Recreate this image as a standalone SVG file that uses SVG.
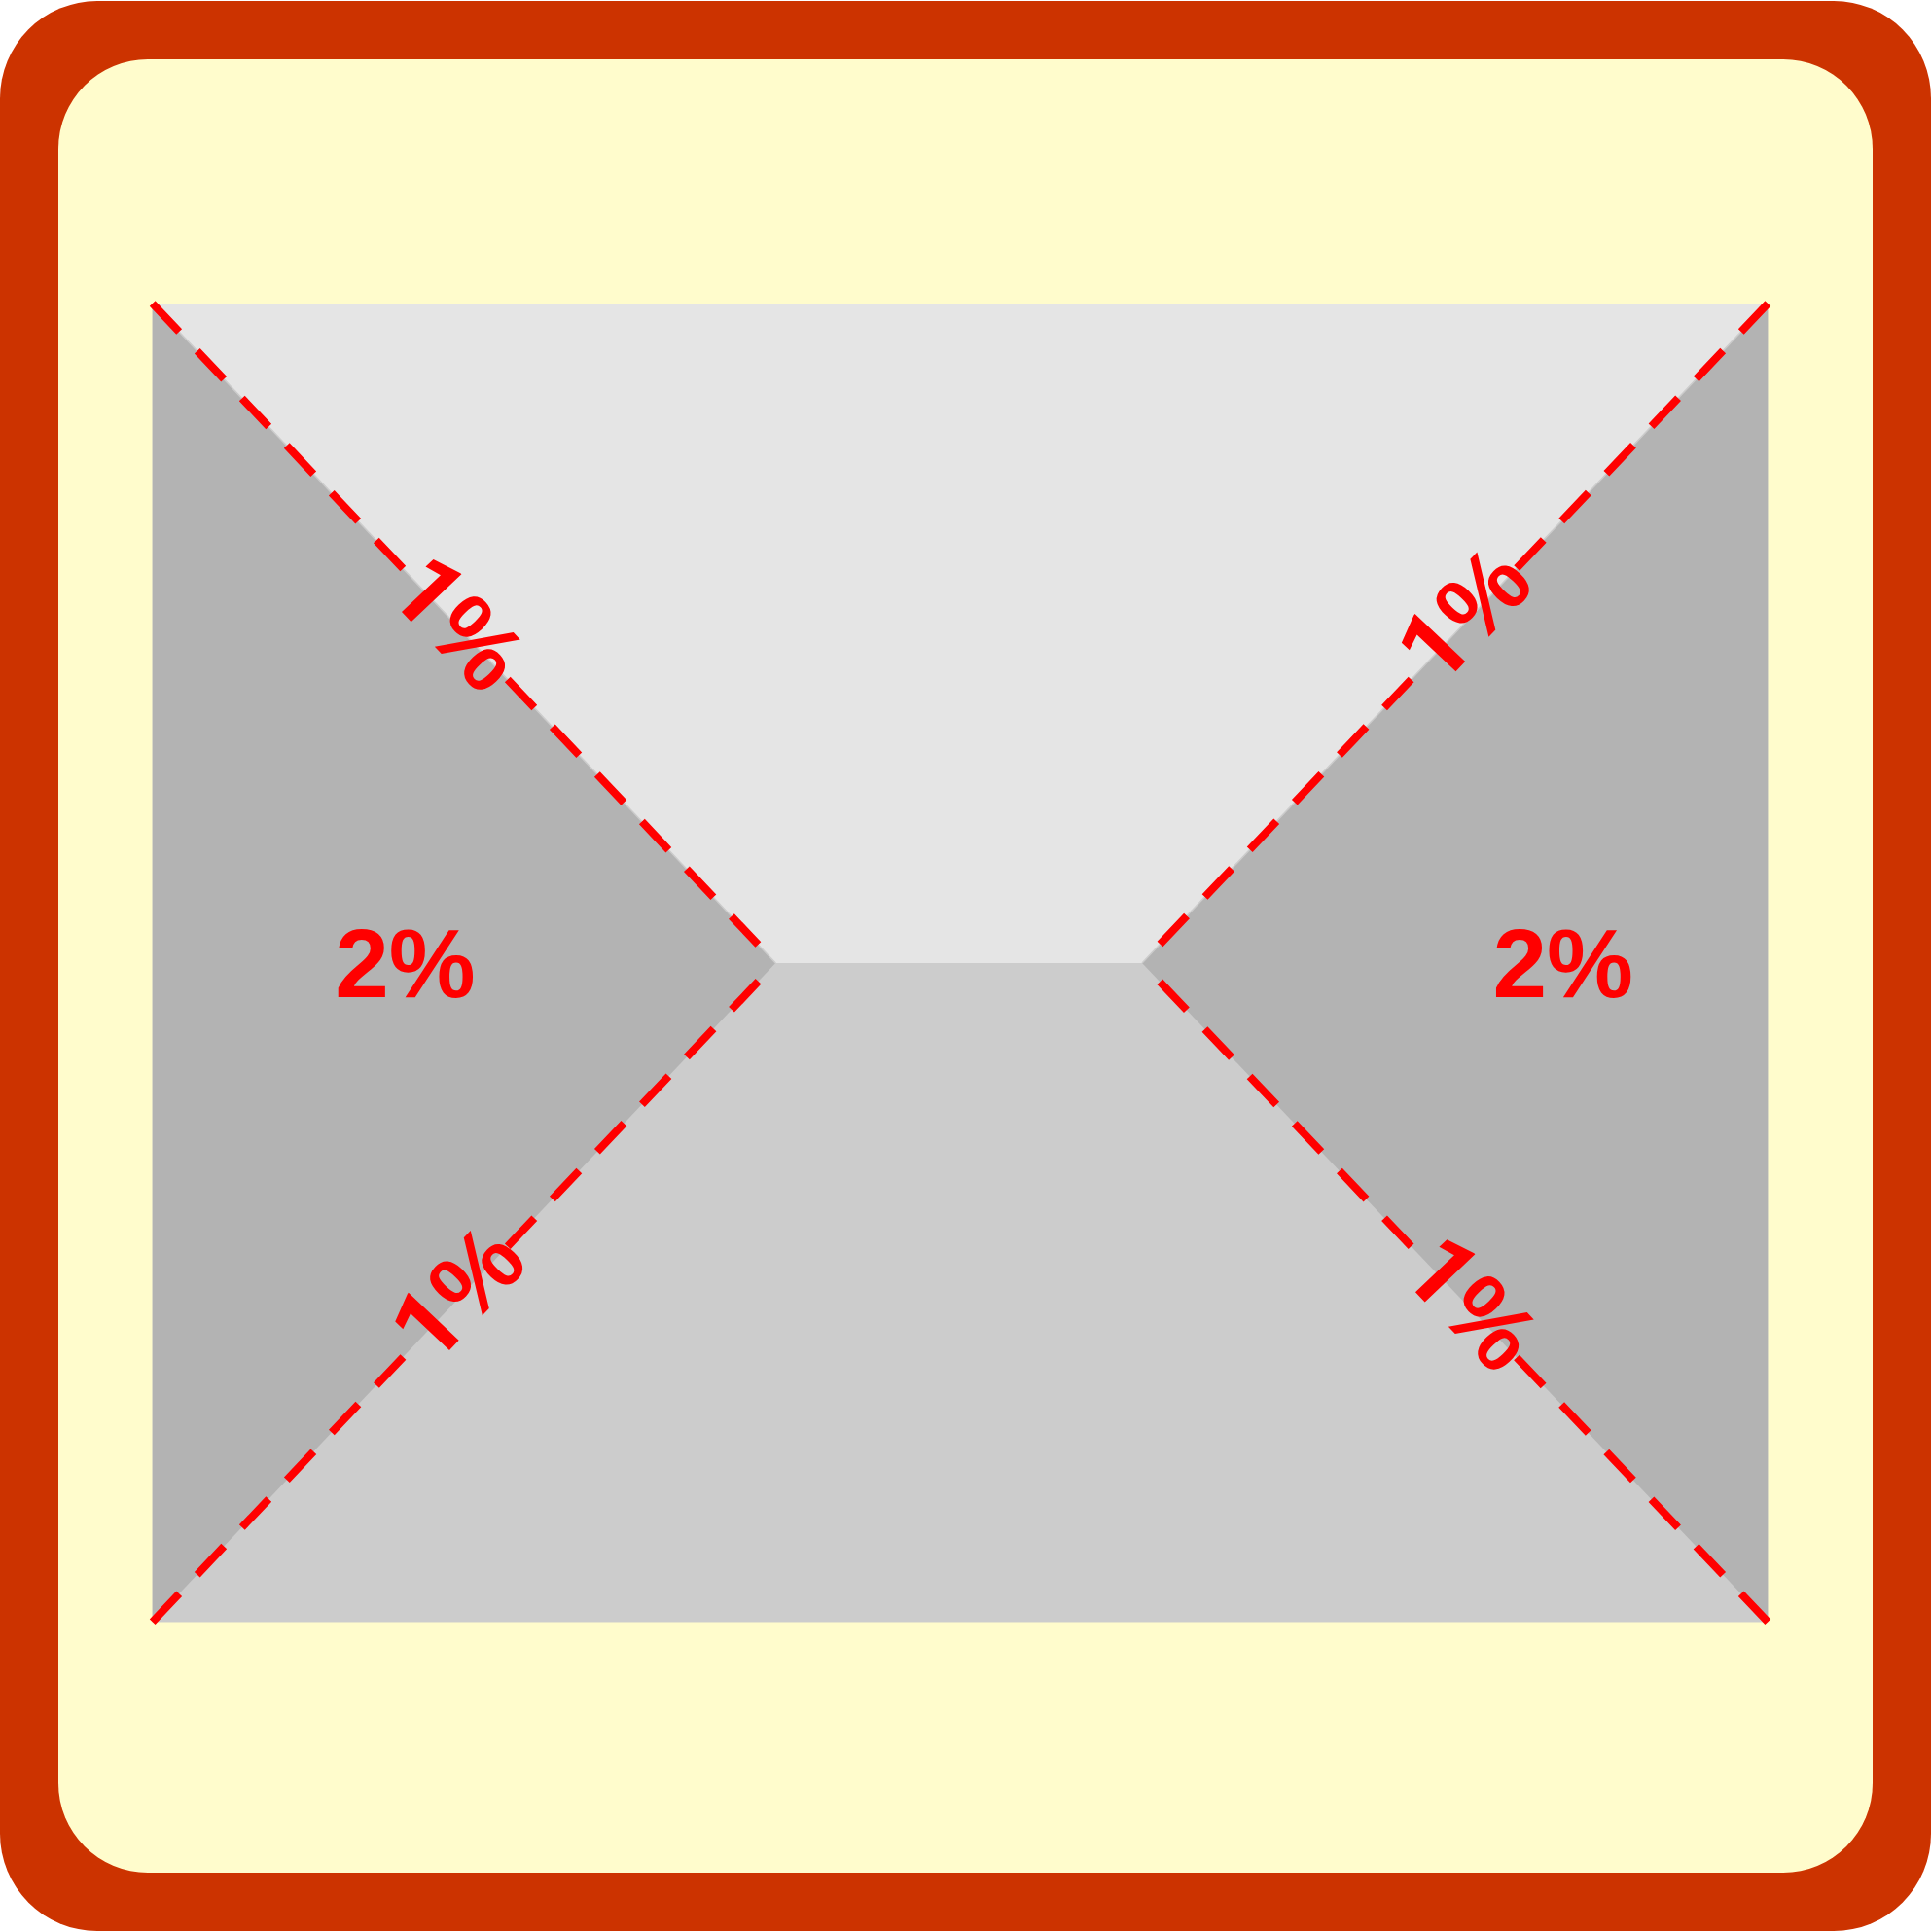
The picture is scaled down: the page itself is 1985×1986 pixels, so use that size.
<svg xmlns="http://www.w3.org/2000/svg" width="1985" height="1986" viewBox="0 0 1985 1986">
  <style>
    .lbl { font-family: "Liberation Sans", Arial, sans-serif; font-weight: bold; font-size: 100px; fill: #FF0000; text-anchor: middle; }
    .one { font-family: Roboto, "Liberation Sans", Arial, sans-serif; }
    .dash { stroke: #FF0000; stroke-width: 8; stroke-dasharray: 40 27; fill: none; stroke-linecap: butt; }
    .seam { stroke: #CCCCCC; stroke-width: 1.5; fill: none; }
  </style>
  <g id="frame">
    <rect x="0" y="1" width="1985" height="1984" rx="100" ry="100" fill="#CC3300"/>
    <rect x="60" y="61" width="1865" height="1864" rx="92" ry="92" fill="#FFFCCC"/>
  </g>
  <g id="plan">
    <rect id="base" x="156.7" y="312" width="1660.6" height="1355.3" fill="#CCCCCC"/>
    <polygon id="top-face" points="156.7,312 1817.3,312 1174,990 797.3,990" fill="#E5E5E5"/>
    <polygon id="bottom-face" points="797.3,990 1174,990 1817.3,1667.3 156.7,1667.3" fill="#CCCCCC"/>
    <polygon id="left-face" points="156.7,312 797.3,990 156.7,1667.3" fill="#B3B3B3"/>
    <polygon id="right-face" points="1817.3,312 1174,990 1817.3,1667.3" fill="#B3B3B3"/>
  </g>
  <g id="connectors">
    <line class="seam" x1="156.7" y1="312" x2="797.3" y2="990"/>
    <line class="seam" x1="1817.3" y1="312" x2="1174" y2="990"/>
    <line class="dash" x1="156.7" y1="312" x2="432.2" y2="603.5"/>
    <line class="dash" x1="521.8" y1="698.5" x2="797.3" y2="990"/>
    <line class="dash" x1="156.7" y1="1667.3" x2="432.2" y2="1376.1"/>
    <line class="dash" x1="521.8" y1="1281.2" x2="797.3" y2="990"/>
    <line class="dash" x1="1817.3" y1="312" x2="1540.7" y2="603.5"/>
    <line class="dash" x1="1450.6" y1="698.5" x2="1174" y2="990"/>
    <line class="dash" x1="1817.3" y1="1667.3" x2="1540.7" y2="1376.1"/>
    <line class="dash" x1="1450.6" y1="1281.2" x2="1174" y2="990"/>
  </g>
  <g id="label-left-2"><text class="lbl" x="416.5" y="1025">2%</text></g>
  <g id="label-right-2"><text class="lbl" x="1606.7" y="1025">2%</text></g>
  <g id="label-tl"><text class="lbl" transform="translate(446,664) rotate(46.6)"><tspan class="one">1</tspan>%</text></g>
  <g id="label-bl"><text class="lbl" transform="translate(495,1353) rotate(-46.6)"><tspan class="one">1</tspan>%</text></g>
  <g id="label-tr"><text class="lbl" transform="translate(1529.5,655.5) rotate(-46.5)"><tspan class="one">1</tspan>%</text></g>
  <g id="label-br"><text class="lbl" transform="translate(1488,1363) rotate(46.5)"><tspan class="one">1</tspan>%</text></g>
</svg>
